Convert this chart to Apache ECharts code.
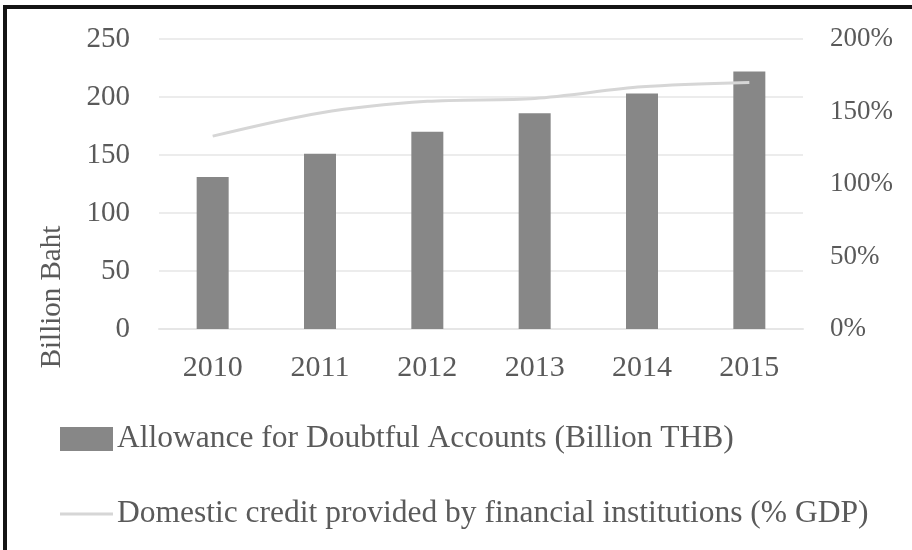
<!DOCTYPE html>
<html>
<head>
<meta charset="utf-8">
<script src="https://cdn.jsdelivr.net/npm/echarts@6/dist/echarts.min.js"></script>
<style>
html,body{margin:0;padding:0;background:#fff;}
#frame{position:absolute;left:3px;top:5px;width:909px;height:545px;border-top:4px solid #141414;border-left:4px solid #141414;box-sizing:border-box;}
#chart{position:absolute;left:0;top:0;width:912px;height:550px;}
</style>
</head>
<body>
<div id="chart"></div>
<div id="frame"></div>
<script>
var years = ['2010', '2011', '2012', '2013', '2014', '2015'];
var allowance = [131, 151, 170, 186, 203, 222];
var domesticCredit = [133, 149, 157, 159, 167, 170];
var barName = 'Allowance for Doubtful Accounts (Billion THB)';
var lineName = 'Domestic credit provided by financial institutions (% GDP)';
var leftTitle = 'Billion Baht';

var font = 'Liberation Serif';
var txt = '#5a5a5a';
var chart = echarts.init(document.getElementById('chart'), null, {renderer: 'canvas'});
chart.setOption({
  animation: false,
  backgroundColor: '#fff',
  grid: {left: 159, right: 109, top: 39, bottom: 221, containLabel: false},
  graphic: [{
    type: 'text', x: 52, y: 297, rotation: Math.PI / 2,
    style: {text: leftTitle, fontFamily: font, fontSize: 29, fill: txt, align: 'center', verticalAlign: 'middle'}
  }],
  legend: {
    orient: 'vertical', left: 60, top: 423, padding: 0, itemWidth: 53, itemHeight: 24, itemGap: 43,
    textStyle: {fontFamily: font, fontSize: 31.5, color: txt, lineHeight: 32, padding: [0, 0, 0, -1]},
    data: [
      {name: barName, icon: 'rect'},
      {name: lineName, icon: 'path://M0,0H53V3H0Z', itemStyle: {color: '#d6d6d6'}}
    ]
  },
  xAxis: {
    type: 'category', data: years,
    axisLine: {show: true, lineStyle: {color: '#e6e6e6', width: 2}},
    axisTick: {show: false},
    axisLabel: {fontFamily: font, fontSize: 30, color: txt, margin: 24}
  },
  yAxis: [{
    type: 'value', min: 0, max: 250, interval: 50,
    axisLine: {show: false}, axisTick: {show: false},
    axisLabel: {fontFamily: font, fontSize: 29, color: txt, margin: 29},
    splitLine: {lineStyle: {color: '#ececec', width: 2}}
  }, {
    type: 'value', min: 0, max: 200, interval: 50, position: 'right',
    axisLine: {show: false}, axisTick: {show: false}, splitLine: {show: false},
    axisLabel: {fontFamily: font, fontSize: 27, color: txt, margin: 27, formatter: '{value}%'}
  }],
  series: [{
    name: barName, type: 'bar', data: allowance, barWidth: 32,
    itemStyle: {color: '#878787'}
  }, {
    name: lineName, type: 'line', yAxisIndex: 1, data: domesticCredit,
    symbol: 'none', smooth: 0.3,
    lineStyle: {color: '#d6d6d6', width: 3},
    itemStyle: {color: '#d6d6d6'}
  }]
});
</script>
</body>
</html>
